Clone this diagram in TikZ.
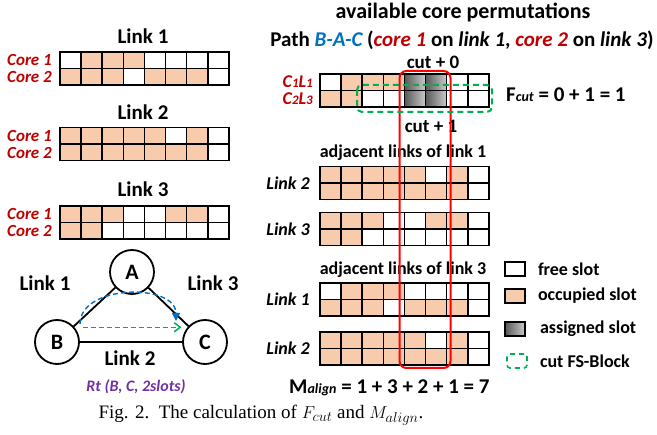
\documentclass[tikz,border=0pt]{standalone}
\usepackage{fontspec}
\setmainfont{Carlito}
\newfontfamily\capfont{Liberation Serif}
\usetikzlibrary{positioning,calc}
\usetikzlibrary{arrows.meta}

\definecolor{occ}{HTML}{F8CBAD}
\definecolor{corered}{HTML}{C00000}
\definecolor{pathblue}{HTML}{0070C0}
\definecolor{rtpurple}{HTML}{7030A0}
\definecolor{cutgreen}{HTML}{00B050}
\definecolor{assdark}{HTML}{585858}
\definecolor{asslight}{HTML}{CACACA}

\newcommand{\fsz}[1]{\fontsize{#1}{#1}\selectfont}

% one slot: x, y, state (0 free, 1 occupied, 2 assigned)
\newcommand{\slotcell}[3]{%
  \ifcase#3\relax \tikzset{cellfill/.style={fill=white}}%
  \or \tikzset{cellfill/.style={fill=occ}}%
  \or \tikzset{cellfill/.style={left color=assdark,right color=asslight}}\fi
  \path[cellfill] (#1,#2) rectangle ++(21.1,16.5);
  \draw[slotline] (#1,#2) rectangle ++(21.1,16.5);
}
% two cores of one link: x, y, core 1 slots, core 2 slots
\newcommand{\slotgrid}[4]{%
  \foreach \s [count=\i from 0] in {#3} {\slotcell{#1+\i*21.1}{#2}{\s}}
  \foreach \s [count=\i from 0] in {#4} {\slotcell{#1+\i*21.1}{#2+16.5}{\s}}
}

\tikzset{
  slotline/.style={draw=black, line width=1.6pt},
  title/.style={font=\bfseries\fsz{21}, inner sep=0pt},
  subtitle/.style={font=\bfseries\fsz{18}, inner sep=0pt},
  corelabel/.style={font=\bfseries\itshape\fsz{17}, text=corered, anchor=east, inner sep=0pt},
  linklabel/.style={font=\bfseries\itshape\fsz{18}, anchor=east, inner sep=0pt},
  station/.style={circle, draw, line width=1.8pt, minimum size=44pt, inner sep=0pt, font=\bfseries\fsz{22}},
  linkedge/.style={line width=1.8pt},
  cutbox/.style={draw=red, line width=2pt, rounded corners=7pt},
  fsblock/.style={draw=cutgreen, line width=2pt, dash pattern=on 6pt off 4pt, rounded corners=5pt},
  legbox/.style={draw, line width=1.6pt, minimum width=20pt, minimum height=14pt, inner sep=0pt},
  legtext/.style={font=\bfseries\fsz{18}, inner sep=0pt, anchor=west},
}

\begin{document}
\begin{tikzpicture}[x=1pt,y=-1pt]
  \useasboundingbox (0,0) rectangle (657,435);

  % link states
  \node[title] (tl1) at (143,36) {Link 1};
  \slotgrid{60}{52}{0,1,1,1,0,0,0,0}{1,1,1,0,1,1,1,0}
  \node[corelabel] (l1c1) at (52,60) {Core 1};
  \node[corelabel] (l1c2) at (52,77) {Core 2};

  \node[title] (tl2) at (143,112) {Link 2};
  \slotgrid{60}{127.5}{1,1,1,1,1,0,1,0}{1,1,1,1,1,1,1,0}
  \node[corelabel] (l2c1) at (52,136) {Core 1};
  \node[corelabel] (l2c2) at (52,153) {Core 2};

  \node[title] (tl3) at (143,189) {Link 3};
  \slotgrid{60}{206}{1,1,1,0,0,1,1,0}{1,1,0,0,0,0,0,0}
  \node[corelabel] (l3c1) at (52,214) {Core 1};
  \node[corelabel] (l3c2) at (52,231) {Core 2};

  % topology
  \node[station] (A) at (132,272) {A};
  \node[station] (B) at (57,342) {B};
  \node[station] (C) at (205,342) {C};
  \draw[linkedge] (A) -- (B);
  \draw[linkedge] (A) -- (C);
  \draw[linkedge] (B) -- (C);
  \node[title] (e1) at (45,283) {Link 1};
  \node[title] (e3) at (213,283) {Link 3};
  \node[title] (e2) at (130,358) {Link 2};
  \node[font=\bfseries\itshape\fsz{16}, text=rtpurple, inner sep=0pt, below=14pt of e2, xshift=6pt] (rt) {Rt (B, C, 2slots)};
  \coordinate (arcS) at ($(B)+(23,-18)$);
  \coordinate (arcE) at ($(C)+(-29,-21)$);
  \draw[pathblue, line width=1.4pt, dash pattern=on 5pt off 3pt, -{Triangle[length=8pt,width=8pt]}]
    (arcS) .. controls +(0,-40) and +(0,-38) .. (arcE);
  \draw[cutgreen, line width=1.5pt, dash pattern=on 5pt off 3pt, -{Straight Barb[length=6pt,width=9pt]}]
    ([xshift=8pt]B.40) -- ([xshift=-6pt]C.140);

  % permutations
  \node[title, font=\bfseries\fsz{22}] (hd) at (463,13) {available core permutations};
  \node[title] (path) at (462,40) {Path \textcolor{pathblue}{\itshape B-A-C} (\textcolor{corered}{\itshape core 1} on \textit{link 1}, \textcolor{corered}{\itshape core 2} on \textit{link 3})};
  \slotgrid{320}{74}{0,1,1,1,2,2,0,0}{1,1,0,0,2,2,0,0}
  \node[corelabel, font=\bfseries\itshape\fsz{18}] (c1l1) at (313,82) {C{\fsz{13}1}L{\fsz{13}1}};
  \node[corelabel, font=\bfseries\itshape\fsz{18}] (c2l3) at (313,98.5) {C{\fsz{13}2}L{\fsz{13}3}};
  \node[subtitle, font=\bfseries\fsz{19}] (cut0) at (433,62) {cut + 0};
  \node[subtitle, font=\bfseries\fsz{19}] (cut1) at (431,126) {cut + 1};
  \node[title, anchor=west] (fcut) at (506,95) {F{\itshape\fsz{14}cut} = 0 + 1 = 1};

  \node[subtitle] (adj1) at (403,153) {adjacent links of link 1};
  \slotgrid{320}{166.5}{1,1,1,1,1,0,1,0}{1,1,1,1,1,1,1,0}
  \node[linklabel] (a1l2) at (310,183) {Link 2};
  \slotgrid{320}{212.5}{1,1,1,0,0,1,1,0}{1,1,0,0,0,0,0,0}
  \node[linklabel] (a1l3) at (310,229) {Link 3};

  \node[subtitle] (adj3) at (403,270) {adjacent links of link 3};
  \slotgrid{320}{283}{0,1,1,1,0,0,0,0}{1,1,1,0,1,1,1,0}
  \node[linklabel] (a3l1) at (310,299) {Link 1};
  \slotgrid{320}{332}{1,1,1,1,1,0,1,0}{1,1,1,1,1,1,1,0}
  \node[linklabel] (a3l2) at (310,348) {Link 2};
  \node[title, anchor=west] (malign) at (289,388) {M{\itshape\fsz{14}align} = 1 + 3 + 2 + 1 = 7};

  % cut and FS-Block marks
  \draw[cutbox] (399.5,71) rectangle (450.5,368);
  \draw[fsblock] (357,85) rectangle (492,112);

  % legend
  \node[legbox, fill=white] (kfree) at (515,269) {};
  \node[legtext, right=12pt of kfree] (tfree) {free slot};
  \node[legbox, fill=occ] (kocc) at (515,296) {};
  \node[legtext, right=12pt of kocc] (tocc) {occupied slot};
  \node[legbox, left color=assdark, right color=asslight] (kass) at (515,329) {};
  \node[legtext, right=14pt of kass] (tass) {assigned slot};
  \node[legbox, draw=cutgreen, dash pattern=on 5pt off 4pt, rounded corners=3pt] (kfs) at (517,361) {};
  \node[legtext, right=12pt of kfs] (tfs) {cut FS-Block};

  % caption
  \node[font=\capfont\fsz{19}, inner sep=0pt] (cap) at (261,415) {Fig. 2.\ \ The calculation of $F_{cut}$ and $M_{align}$.};
\end{tikzpicture}
\end{document}
